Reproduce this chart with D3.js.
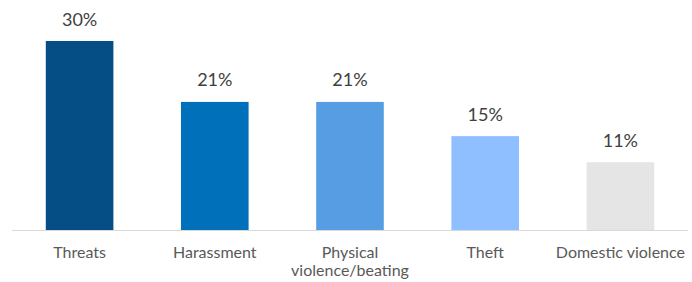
<!DOCTYPE html>
<html><head><meta charset="utf-8">
<script src="https://cdn.jsdelivr.net/npm/d3@7"></script>
<style>body{margin:0;background:#fff;}svg{display:block;}</style>
</head><body>
<svg id="c" width="692" height="282"></svg>
<script>
const categories = [["Threats"], ["Harassment"], ["Physical", "violence/beating"], ["Theft"], ["Domestic violence"]];
const values = [30.4, 20.6, 20.6, 15.1, 10.9];
const valueLabels = ["30%", "21%", "21%", "15%", "11%"];
const colors = ["#054E85", "#0070BA", "#579DE3", "#8FBFFF", "#E5E5E5"];

const svg = d3.select("#c");
const x = d3.scaleBand().domain(d3.range(values.length)).range([12, 688]).paddingInner(0.5).paddingOuter(0.25);
const y = d3.scaleLinear().domain([0, 30.4]).range([230, 41]);

svg.append("g").selectAll("rect").data(values).join("rect")
  .attr("x", (d, i) => x(i)).attr("width", x.bandwidth())
  .attr("y", d => y(d)).attr("height", d => y(0) - y(d))
  .attr("fill", (d, i) => colors[i]);

svg.append("line").attr("x1", 12).attr("x2", 688).attr("y1", 230.5).attr("y2", 230.5)
  .attr("stroke", "#D9D9D9").attr("stroke-width", 1.2);

svg.append("g").selectAll("text").data(values).join("text")
  .attr("x", (d, i) => x(i) + x.bandwidth() / 2).attr("y", d => y(d) - 15.5)
  .attr("text-anchor", "middle").attr("font-family", "Lato").attr("font-size", 18)
  .attr("fill", "#404040").text((d, i) => valueLabels[i]);

const lab = svg.append("g").selectAll("text").data(categories).join("text")
  .attr("text-anchor", "middle").attr("font-family", "Lato").attr("font-size", 16)
  .attr("fill", "#595959");
lab.each(function(lines, i) {
  d3.select(this).selectAll("tspan").data(lines).join("tspan")
    .attr("x", x(i) + x.bandwidth() / 2).attr("y", (l, j) => 258 + j * 18).text(l => l);
});
</script>
</body></html>
